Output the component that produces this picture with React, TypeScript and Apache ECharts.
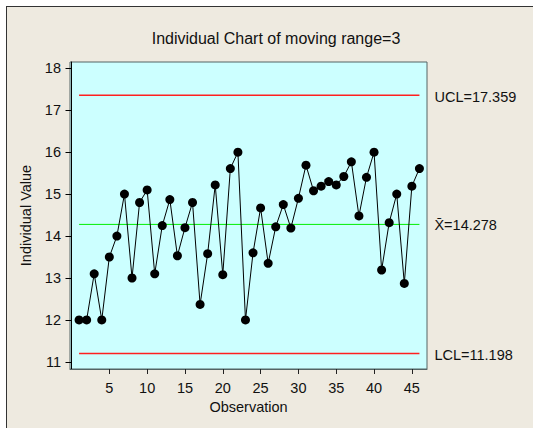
import React, { useEffect, useRef } from "react";
import * as echarts from "echarts";

const observations = [
  1, 2, 3, 4, 5, 6, 7, 8, 9, 10, 11, 12, 13, 14, 15, 16, 17, 18, 19, 20, 21, 22, 23,
  24, 25, 26, 27, 28, 29, 30, 31, 32, 33, 34, 35, 36, 37, 38, 39, 40, 41, 42, 43, 44, 45, 46,
];
const individualValues = [
  12, 12, 13.1, 12, 13.5, 14, 15, 13, 14.8, 15.1,
  13.1, 14.25, 14.87, 13.53, 14.2, 14.8, 12.37, 13.58, 15.22, 13.08,
  15.61, 16, 12, 13.6, 14.67, 13.35, 14.22, 14.75, 14.19, 14.9,
  15.69, 15.08, 15.19, 15.3, 15.22, 15.42, 15.77, 14.48, 15.4, 16,
  13.19, 14.32, 15, 12.87, 15.19, 15.61,
];
const yTicks = [11, 12, 13, 14, 15, 16, 17, 18];
const xTicks = [5, 10, 15, 20, 25, 30, 35, 40, 45];
const UCL = 17.359;
const CENTER = 14.278;
const LCL = 11.198;
const controlLabels = ["UCL=17.359", "X\u0304=14.278", "LCL=11.198"];

const FONT = "'Liberation Sans', Arial, sans-serif";

export default function App() {
  const ref = useRef<HTMLDivElement>(null);
  useEffect(() => {
    if (!ref.current) return;
    const chart = echarts.init(ref.current, null, { renderer: "svg" });
    const first = observations[0];
    const last = observations[observations.length - 1];
    const limitSeries = (name: string, v: number, color: string, width: number, label: string, dy: number) => ({
      type: "line",
      name,
      data: [
        [first, v],
        [last, v],
      ],
      showSymbol: false,
      symbol: "none",
      silent: true,
      z: 3,
      color,
      lineStyle: { color, width, type: "solid" },
      endLabel: {
        show: true,
        formatter: label,
        distance: 15,
        offset: [0, dy],
        color: "#111",
        fontSize: 14.5,
        fontFamily: FONT,
      },
    });
    chart.setOption({
      animation: false,
      backgroundColor: "transparent",
      textStyle: { fontFamily: FONT },
      title: {
        text: "Individual Chart of moving range=3",
        left: 271,
        top: 25,
        textAlign: "center",
        textStyle: { fontSize: 16, fontWeight: "normal", color: "#111", fontFamily: FONT },
      },
      grid: {
        left: 70,
        top: 62,
        width: 357,
        height: 307,
        show: true,
        backgroundColor: "#CCFFFF",
        borderColor: "#556565",
        borderWidth: 1,
      },
      xAxis: {
        type: "value",
        min: -0.2,
        max: 47,
        name: "Observation",
        nameLocation: "middle",
        nameGap: 30,
        nameTextStyle: { fontSize: 14.5, color: "#111", fontFamily: FONT },
        axisLine: { show: true, lineStyle: { color: "#556565", width: 1 } },
        axisTick: { show: true, length: 5, lineStyle: { color: "#222" }, customValues: xTicks },
        axisLabel: { customValues: xTicks, fontSize: 14.5, color: "#111", margin: 11, fontFamily: FONT },
        splitLine: { show: false },
      },
      yAxis: {
        type: "value",
        min: 10.83,
        max: 18.15,
        name: "Individual Value",
        nameLocation: "middle",
        nameGap: 36,
        nameTextStyle: { fontSize: 14.5, color: "#111", fontFamily: FONT },
        axisLine: { show: true, lineStyle: { color: "#000", width: 1 } },
        axisTick: { show: true, length: 6, lineStyle: { color: "#000" }, customValues: yTicks },
        axisLabel: { customValues: yTicks, fontSize: 14.5, color: "#111", margin: 9, fontFamily: FONT },
        splitLine: { show: false },
      },
      series: [
        limitSeries("UCL", UCL, "#FF2020", 1.5, controlLabels[0], 2),
        limitSeries("Mean", CENTER, "#00EE00", 1, controlLabels[1], 1),
        limitSeries("LCL", LCL, "#FF2020", 1.5, controlLabels[2], 1),
        {
          type: "line",
          name: "Individual",
          data: observations.map((o, i) => [o, individualValues[i]]),
          symbol: "circle",
          symbolSize: 9,
          color: "#000",
          itemStyle: { color: "#000" },
          lineStyle: { color: "#000", width: 1 },
          z: 5,
        },
      ],
    });
    return () => chart.dispose();
  }, []);
  return (
    <div
      style={{
        position: "fixed",
        left: 0,
        top: 0,
        width: 533,
        height: 428,
        background: "#fff",
        overflow: "hidden",
      }}
    >
      <div
        style={{
          position: "absolute",
          left: 6,
          top: 6,
          width: 560,
          height: 460,
          background: "#EEEAE0",
          border: "1px solid #333",
        }}
      />
      <div ref={ref} style={{ position: "absolute", left: 0, top: 0, width: 533, height: 428 }} />
    </div>
  );
}
